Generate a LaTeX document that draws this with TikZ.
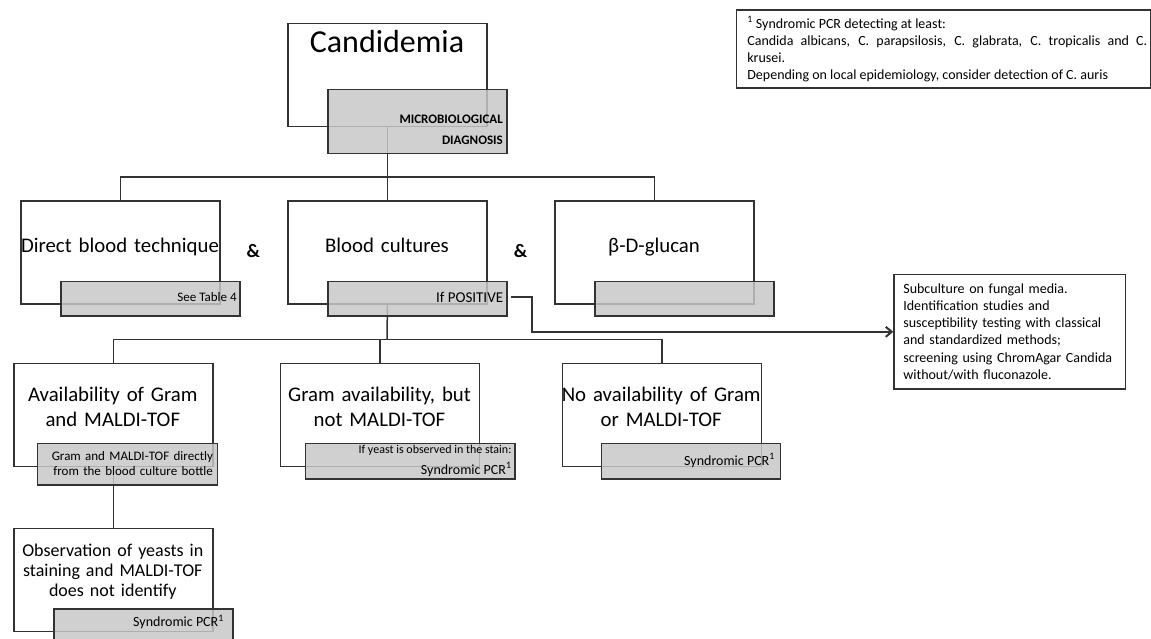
\documentclass[tikz,border=0pt]{standalone}
\usepackage{fontspec}
\setmainfont{Carlito}
\usetikzlibrary{arrows.meta}
\newcommand\fsz[2]{\fontsize{#1}{#2}\selectfont}
\colorlet{linec}{black!80}
\begin{document}
\begin{tikzpicture}[x=1pt,y=-1pt,
  wbox/.style={draw=linec,line width=1.3pt,fill=white,anchor=north west,inner sep=0pt,minimum width=199pt,minimum height=103pt},
  gbox/.style={draw=linec,line width=1.3pt,fill=black!22,fill opacity=0.84,anchor=north west,inner sep=0pt},
  conn/.style={draw=linec,line width=1.5pt},
  big/.style={font=\fsz{20.8}{25.7},inner sep=0pt,align=center,text width=240pt,anchor=base},
  amp/.style={font=\bfseries\fsz{19}{23},inner sep=0pt,anchor=base},
  note/.style={inner sep=0pt,anchor=base east},
  txtbox/.style={draw=linec,line width=1.3pt,anchor=north west,inner ysep=0pt},
]
\useasboundingbox (0,0) rectangle (1151,638);

% white boxes
\node[wbox] (cand) at (287.3,22.7) {};
\node[wbox] (direct) at (20.3,200.3) {};
\node[wbox] (blood) at (287.3,200.3) {};
\node[wbox] (gluc) at (554.3,200.3) {};
\node[wbox] (avail) at (13.3,362.7) {};
\node[wbox] (gram) at (280,362.7) {};
\node[wbox] (noav) at (561.7,362.7) {};
\node[wbox,minimum height=103.3pt] (obs) at (13.3,527.7) {};

% tree connectors (under the grey tabs)
\coordinate (j1) at (387,177);
\coordinate (j2) at (387,339.3);
\draw[conn] (cand.south) -- (blood.north);
\draw[conn] (direct.north) |- (j1) -| (gluc.north);
\draw[conn] (blood.south) -- (j2);
\draw[conn] (avail.north) |- (j2) -| (noav.north);
\draw[conn] (gram.north) -- (gram.north |- j2);
\draw[conn] (avail.south) -- (obs.north);

% grey tabs
\node[gbox,minimum width=179pt,minimum height=64pt] (micro) at (327.3,88.7) {};
\node[gbox,minimum width=179pt,minimum height=34.6pt] (dirg) at (60.3,280.7) {};
\node[gbox,minimum width=179pt,minimum height=34.6pt] (pos) at (327.3,280.7) {};
\node[gbox,minimum width=179pt,minimum height=34.6pt] (glucg) at (594.3,280.7) {};
\node[gbox,minimum width=180pt,minimum height=41.6pt] (availg) at (36.7,442.7) {};
\node[gbox,minimum width=209.3pt,minimum height=35.6pt] (gramg) at (305,442.7) {};
\node[gbox,minimum width=179.3pt,minimum height=35.6pt] (noavg) at (600.7,442.7) {};
\node[gbox,minimum width=179pt,minimum height=36pt] (obsg) at (53.3,608.3) {};

% side boxes
\node[txtbox,inner xsep=9.4pt,text width=212.9pt,minimum height=114.3pt,align=left,font=\fsz{14}{17.2}] (sub) at (893.3,274)
  {Subculture on fungal media.\\Identification studies and\\susceptibility testing with classical\\and standardized methods;\\screening using ChromAgar Candida\\without/with fluconazole.};
\node[txtbox,inner xsep=2.8pt,minimum height=78pt,font=\fsz{14}{17}] (fn) at (736,9.3)
  {\hspace*{7.9pt}\parbox{400pt}{\raggedright
   \textsuperscript{1} Syndromic PCR detecting at least:\\
   \makebox[400pt][s]{Candida albicans, C. parapsilosis, C. glabrata, C. tropicalis and C.}\\
   krusei.\\
   Depending on local epidemiology, consider detection of C. auris}};

% arrow to the culture box
\draw[conn,line width=2pt,-{Straight Barb[length=6pt,width=10pt]}] ([xshift=3pt,yshift=2pt]pos.east) -- ++(21.4,0) |- (sub.west);

% labels
\node[anchor=base,inner sep=0pt,font=\fsz{32}{38}] (tcand) at (387,52) {Candidemia};
\node[note,text width=130pt,align=right,font=\bfseries\fsz{13}{21}] (tmicro) at (503,123) {MICROBIOLOGICAL\\DIAGNOSIS};
\node[big] (tdirect) at (120,252.5) {Direct blood technique};
\node[big] (tblood) at (387,252.5) {Blood cultures};
\node[big] (tgluc) at (654,252.5) {β-D-glucan};
\node[amp] (amp1) at (253.3,257) {\&};
\node[amp] (amp2) at (520.6,257) {\&};
\node[note,font=\fsz{13}{16}] (tsee) at (236.9,301.5) {See Table 4};
\node[note,font=\fsz{15}{18}] (tpos) at (503.3,302.3) {If POSITIVE};

\node[big] (tavail) at (112.8,401) {Availability of Gram\\and MALDI-TOF};
\node[big] (tgram) at (379.5,401) {Gram availability, but\\not MALDI-TOF};
\node[big] (tnoav) at (661.2,401) {No availability of Gram\\or MALDI-TOF};
\node[note,text width=180pt,align=right,font=\fsz{13}{15}] (tavailg) at (213.2,460) {Gram and MALDI-TOF directly\\from the blood culture bottle};
\node[note,font=\fsz{12}{14}] (tyeast) at (511.7,453.3) {If yeast is observed in the stain:};
\node[note,font=\fsz{14}{17}] (tpcr1) at (511.7,474) {Syndromic PCR\textsuperscript{1}};
\node[note,font=\fsz{14}{17}] (tpcr2) at (775,465) {Syndromic PCR\textsuperscript{1}};

\node[big,font=\fsz{18}{20}] (tobs) at (112.8,556.7) {Observation of yeasts in\\staining and MALDI-TOF\\does not identify};
\node[note,font=\fsz{14}{17}] (tpcr3) at (224,626.7) {Syndromic PCR\textsuperscript{1}};
\end{tikzpicture}
\end{document}
